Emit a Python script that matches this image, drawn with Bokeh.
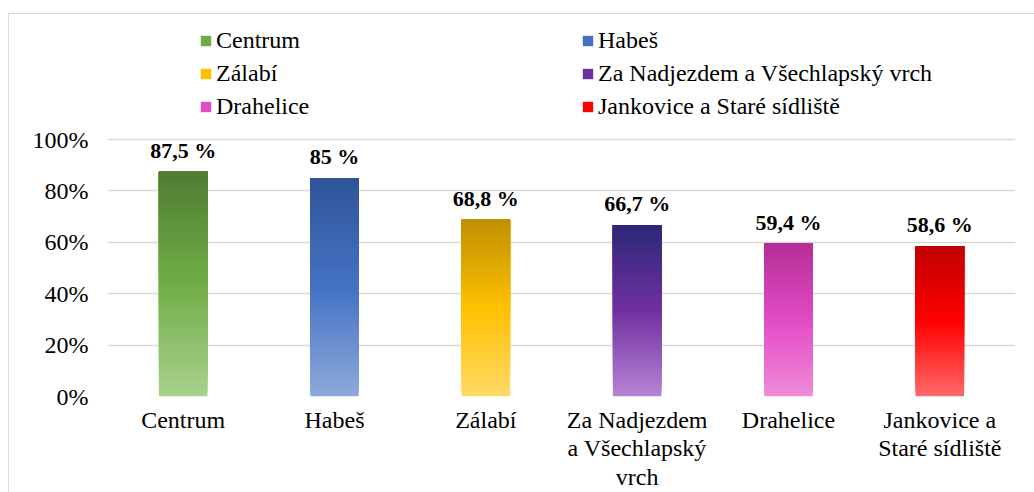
import numpy as np
from bokeh.plotting import figure
from bokeh.models import (Range1d, FixedTicker, PrintfTickFormatter, Legend, LegendItem,
                          ColumnDataSource)
from bokeh.embed import file_html
from bokeh.resources import INLINE

# ---- data ----
categories = ["Centrum", "Habeš", "Zálabí", "Za Nadjezdem a Všechlapský vrch",
              "Drahelice", "Jankovice a Staré sídliště"]
axis_labels = ["Centrum", "Habeš", "Zálabí", "Za Nadjezdem\na Všechlapský\nvrch",
               "Drahelice", "Jankovice a\nStaré sídliště"]
values = [87.5, 85.0, 68.8, 66.7, 59.4, 58.6]
y_ticks = [0, 20, 40, 60, 80, 100]

# ---- style: gradient stops (top, middle, bottom) ----
gradients = [
    ("#4f7c31", "#70ad47", "#a9d18e"),
    ("#2f5597", "#4472c4", "#8eaadb"),
    ("#bf9000", "#ffc000", "#ffd966"),
    ("#2c2877", "#7030a0", "#b784d5"),
    ("#b52f96", "#e24bc6", "#f08cd9"),
    ("#c00000", "#ff0000", "#ff6a6a"),
]

def hex2rgb(h):
    h = h.lstrip("#")
    return np.array([int(h[i:i+2], 16) for i in (0, 2, 4)], dtype=float)

def lerp_color(stops, t):
    # t = 0 at bottom, 1 at top
    top, mid, bot = [hex2rgb(c) for c in stops]
    if t < 0.5:
        c = bot + (mid - bot) * (t / 0.5)
    else:
        c = mid + (top - mid) * ((t - 0.5) / 0.5)
    return "#%02x%02x%02x" % tuple(int(round(v)) for v in c)

W, H = 1034, 492
# frame spans from the top of the chart box down to the 0% line; the
# extra room above 100% holds the legend
Y_END = 100 * 383 / 257
p = figure(width=W, height=H, output_backend="svg", toolbar_location=None,
           x_range=Range1d(0, len(categories)), y_range=Range1d(0, Y_END),
           min_border_left=107, min_border_right=19, min_border_top=13,
           min_border_bottom=96, outline_line_color=None,
           background_fill_alpha=0, border_fill_alpha=0)
# light chart-area border (top and left edges visible in the window)
p.styles = {
    "background": ("linear-gradient(#d9d9d9, #d9d9d9) 8px 13px / 100% 1px no-repeat, "
                   "linear-gradient(#d9d9d9, #d9d9d9) 8px 13px / 1px 100% no-repeat, "
                   "#ffffff"),
}

N = 60
bw = 0.32
renderers = []
for i, (cat, v) in enumerate(zip(categories, values)):
    x = i + 0.5
    fr = np.arange(N) / N
    bottoms = v * fr
    tops = np.full(N, v)
    cols = [lerp_color(gradients[i], (k + 0.5) / N) for k in range(N)]
    src = ColumnDataSource(dict(left=[x - bw / 2] * N, right=[x + bw / 2] * N,
                                bottom=bottoms, top=tops, color=cols))
    r = p.quad(left="left", right="right", bottom="bottom", top="top",
               fill_color="color", line_color=None, source=src)
    renderers.append(r)

labels = [("%g" % v).replace(".", ",") + " %" for v in values]
p.text(x=[i + 0.5 for i in range(len(values))], y=values, text=labels,
       text_align="center", text_baseline="bottom", y_offset=-9,
       text_font="Liberation Serif", text_font_style="bold",
       text_font_size="22px", text_color="#000000")

# axes
p.yaxis.ticker = FixedTicker(ticks=y_ticks)
p.yaxis.formatter = PrintfTickFormatter(format="%d%%")
p.xaxis.ticker = FixedTicker(ticks=[i + 0.5 for i in range(len(categories))])
p.xaxis.major_label_overrides = {i + 0.5: lab for i, lab in enumerate(axis_labels)}
for ax in (p.xaxis[0], p.yaxis[0]):
    ax.axis_line_color = None
    ax.major_tick_line_color = None
    ax.minor_tick_line_color = None
    ax.major_tick_out = 0
    ax.major_tick_in = 0
    ax.major_label_text_font = "Liberation Serif"
    ax.major_label_text_font_size = "24px"
    ax.major_label_text_color = "#000000"
p.yaxis.major_label_standoff = 19
p.xaxis.major_label_standoff = 10
p.xaxis.major_label_text_line_height = 1.1

p.xgrid.grid_line_color = None
p.ygrid.ticker = FixedTicker(ticks=y_ticks)
p.ygrid.grid_line_color = "#d9d9d9"
p.ygrid.grid_line_width = 1.5

# legend: two columns
def make_legend(idxs, loc):
    items = [LegendItem(label=categories[k], renderers=[renderers[k]], index=N // 2)
             for k in idxs]
    lg = Legend(items=items, location=loc, orientation="vertical",
                label_text_font="Liberation Serif", label_text_font_size="24px",
                label_text_color="#000000", glyph_width=13, glyph_height=13,
                label_standoff=4, spacing=6, padding=0, margin=0,
                label_height=26,
                border_line_color=None, background_fill_alpha=0)
    p.add_layout(lg, "center")

make_legend([0, 2, 4], (92, 276))
make_legend([1, 3, 5], (474, 276))

open("out.html", "w").write(file_html(p, INLINE))
